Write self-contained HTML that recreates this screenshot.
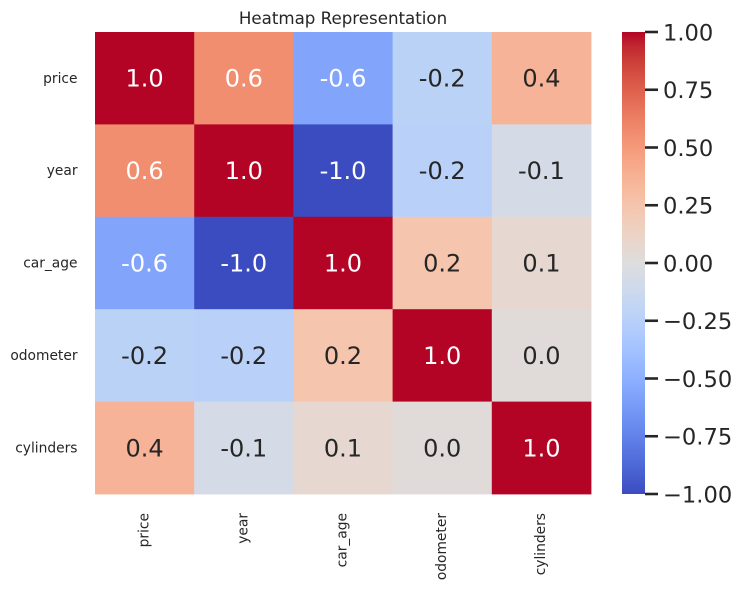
<!DOCTYPE html>
<html lang="en">
<head>
<meta charset="utf-8">
<title>Heatmap Representation</title>
<style>
html,body{margin:0;padding:0;background:#fff;}
svg{display:block;font-family:"DejaVu Sans","Liberation Sans",sans-serif;}
</style>
</head>
<body>
<svg id="chart" xmlns="http://www.w3.org/2000/svg" width="742" height="589" viewBox="0 0 742 589">
  <rect x="0" y="0" width="742" height="589" fill="#ffffff"/>
  <text x="343" y="24" font-size="16.67" fill="#262626" text-anchor="middle">Heatmap Representation</text>
</svg>
<script>
const categories = ['price', 'year', 'car_age', 'odometer', 'cylinders'];
const rowPrice = [1.0, 0.56, -0.56, -0.23, 0.36];
const rowYear = [0.56, 1.0, -1.0, -0.245, -0.07];
const rowCarAge = [-0.56, -1.0, 1.0, 0.245, 0.07];
const rowOdometer = [-0.23, -0.245, 0.245, 1.0, 0.02];
const rowCylinders = [0.36, -0.07, 0.07, 0.02, 1.0];
const matrix = [rowPrice, rowYear, rowCarAge, rowOdometer, rowCylinders];
const colorbarTicks = [1.0, 0.75, 0.5, 0.25, 0.0, -0.25, -0.5, -0.75, -1.0];

const NS = 'http://www.w3.org/2000/svg';
const svg = document.getElementById('chart');
const plot = {left: 95, right: 591, top: 32, bottom: 494};
const bar = {left: 622, right: 645, top: 32, bottom: 494};
const vmin = -1, vmax = 1;

const coolwarm = [[59,76,192],[68,90,204],[77,104,215],[87,117,225],[98,130,234],[108,142,241],[119,154,247],[130,165,251],[141,176,254],[152,185,255],[163,194,255],[174,201,253],[184,208,249],[194,213,244],[204,217,238],[213,219,230],[221,221,221],[229,216,209],[236,211,197],[241,204,185],[245,196,173],[247,187,160],[247,177,148],[247,166,135],[244,154,123],[241,141,111],[236,127,99],[229,112,88],[222,96,77],[213,80,66],[203,62,56],[192,40,47],[180,4,38]];

function colorRgb(v) {
  const t = Math.max(0, Math.min(1, (v - vmin) / (vmax - vmin))) * (coolwarm.length - 1);
  const i = Math.min(coolwarm.length - 2, Math.floor(t));
  const f = t - i;
  return coolwarm[i].map((c, k) => Math.round(c + (coolwarm[i + 1][k] - c) * f));
}
function colorCss(v) {
  const c = colorRgb(v);
  return 'rgb(' + c[0] + ',' + c[1] + ',' + c[2] + ')';
}
function luminance(rgb) {
  const l = rgb.map(c => {
    const s = c / 255;
    return s <= 0.03928 ? s / 12.92 : Math.pow((s + 0.055) / 1.055, 2.4);
  });
  return 0.2126 * l[0] + 0.7152 * l[1] + 0.0722 * l[2];
}
function xBand(i) {
  return plot.left + i * (plot.right - plot.left) / categories.length;
}
function yBand(i) {
  return plot.top + i * (plot.bottom - plot.top) / categories.length;
}
function yBar(v) {
  return bar.bottom - (v - vmin) / (vmax - vmin) * (bar.bottom - bar.top);
}
function make(tag, attrs, text) {
  const el = document.createElementNS(NS, tag);
  Object.keys(attrs).forEach(k => el.setAttribute(k, attrs[k]));
  if (text !== undefined) el.textContent = text;
  svg.appendChild(el);
  return el;
}

matrix.forEach((row, r) => {
  row.forEach((v, c) => {
    const x0 = xBand(c), x1 = xBand(c + 1), y0 = yBand(r), y1 = yBand(r + 1);
    const cell = make('rect', {x: x0, y: y0, width: x1 - x0 + 0.4, height: y1 - y0 + 0.4, fill: colorCss(v)});
    
    
    const fill = luminance(colorRgb(v)) < 0.408 ? '#ffffff' : '#262626';
    const label = make('text', {x: (x0 + x1) / 2, y: (y0 + y1) / 2 + 8.5, 'font-size': 24, fill: fill, 'text-anchor': 'middle'}, v.toFixed(1));
    
    
  });
});

categories.forEach((name, i) => {
  const yLabel = make('text', {x: 77.5, y: (yBand(i) + yBand(i + 1)) / 2 + 4.6, 'font-size': 13.8, fill: '#262626', 'text-anchor': 'end'}, name);
  
  
  const cx = (xBand(i) + xBand(i + 1)) / 2 + 3.7;
  const xLabel = make('text', {x: cx, y: 513, 'font-size': 13.8, fill: '#262626', 'text-anchor': 'end', transform: 'rotate(-90 ' + cx + ' 513)'}, name);
  
  
});

const defs = make('defs', {});
const gradient = document.createElementNS(NS, 'linearGradient');
gradient.setAttribute('id', 'colorbar-gradient');
gradient.setAttribute('x1', '0');
gradient.setAttribute('y1', '1');
gradient.setAttribute('x2', '0');
gradient.setAttribute('y2', '0');
coolwarm.forEach((c, i) => {
  const stop = document.createElementNS(NS, 'stop');
  stop.setAttribute('offset', i / (coolwarm.length - 1));
  stop.setAttribute('stop-color', 'rgb(' + c.join(',') + ')');
  gradient.appendChild(stop);
});
defs.appendChild(gradient);

const colorbar = make('rect', {x: bar.left, y: bar.top, width: bar.right - bar.left, height: bar.bottom - bar.top, fill: 'url(#colorbar-gradient)'});



colorbarTicks.forEach(v => {
  const y = yBar(v);
  const tick = make('line', {x1: bar.right, x2: bar.right + 13, y1: y, y2: y, stroke: '#262626', 'stroke-width': 2.6});
  
  
  const text = v.toFixed(2).replace('-', '\u2212');
  const label = make('text', {x: bar.right + 18, y: y + 8.4, 'font-size': 22.6, fill: '#262626'}, text);
  
  
});
</script>
</body>
</html>
